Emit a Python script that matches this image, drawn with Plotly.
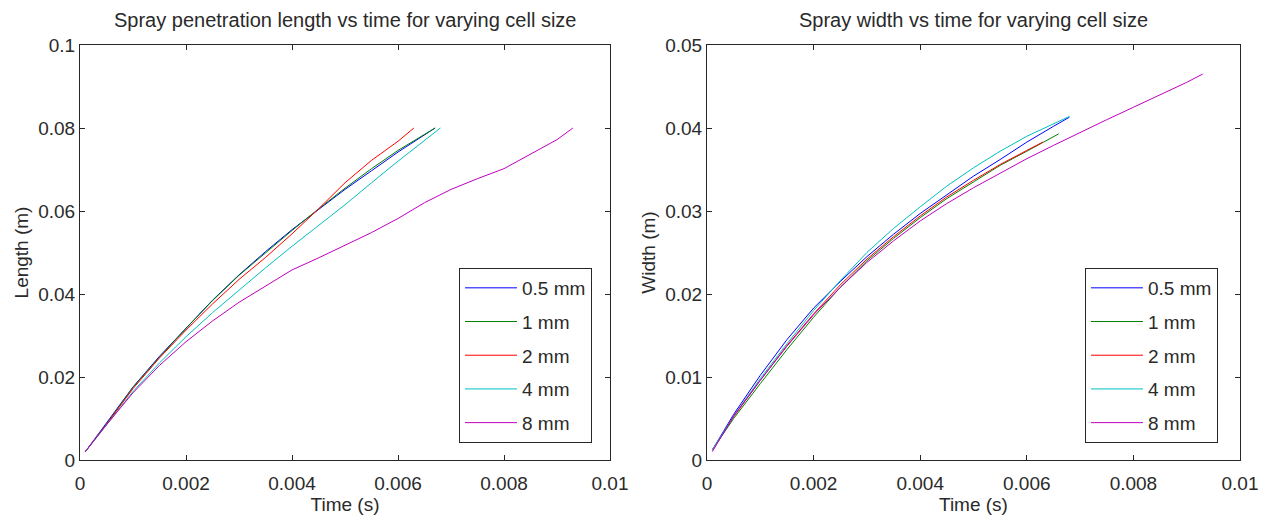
import plotly.graph_objects as go

labels = ["0.5 mm", "1 mm", "2 mm", "4 mm", "8 mm"]
colors = ["rgb(0,0,255)", "rgb(0,128,0)", "rgb(255,0,0)", "rgb(0,191,191)", "rgb(191,0,191)"]

# Left: penetration length (m) vs time (s)
len_t_05 = [0.0001, 0.0005, 0.001, 0.0015, 0.002, 0.0025, 0.003, 0.0035, 0.004, 0.0045, 0.005, 0.0055, 0.006, 0.0067]
len_y_05 = [0.002, 0.0088, 0.0176, 0.0250, 0.0318, 0.0385, 0.0446, 0.0502, 0.0555, 0.0604, 0.0652, 0.0697, 0.0742, 0.0800]
len_t_1 = [0.0001, 0.0005, 0.001, 0.0015, 0.002, 0.0025, 0.003, 0.0035, 0.004, 0.0045, 0.005, 0.0055, 0.006, 0.0067]
len_y_1 = [0.002, 0.0087, 0.0175, 0.0248, 0.0317, 0.0384, 0.0445, 0.0500, 0.0553, 0.0605, 0.0655, 0.0702, 0.0746, 0.0800]
len_t_2 = [0.0001, 0.0005, 0.001, 0.0015, 0.002, 0.0025, 0.003, 0.0035, 0.004, 0.0045, 0.005, 0.0055, 0.006, 0.0063]
len_y_2 = [0.002, 0.0086, 0.0172, 0.0246, 0.0313, 0.0376, 0.0435, 0.0488, 0.0545, 0.0605, 0.0668, 0.0722, 0.0768, 0.0800]
len_t_4 = [0.0001, 0.0005, 0.001, 0.0015, 0.002, 0.0025, 0.003, 0.0035, 0.004, 0.0045, 0.005, 0.0055, 0.006, 0.0068]
len_y_4 = [0.002, 0.0085, 0.0165, 0.0234, 0.0297, 0.0355, 0.0410, 0.0463, 0.0515, 0.0565, 0.0615, 0.0668, 0.0720, 0.0800]
len_t_8 = [0.0001, 0.0005, 0.001, 0.0015, 0.002, 0.0025, 0.003, 0.0035, 0.004, 0.0045, 0.005, 0.0055, 0.006, 0.0065, 0.007, 0.0075, 0.008, 0.0085, 0.009, 0.0093]
len_y_8 = [0.002, 0.0085, 0.0162, 0.0228, 0.0285, 0.0335, 0.0380, 0.0420, 0.0458, 0.0487, 0.0517, 0.0548, 0.0582, 0.0620, 0.0652, 0.0678, 0.0702, 0.0737, 0.0772, 0.0800]

# Right: spray width (m) vs time (s)
wid_t_05 = [0.0001, 0.0005, 0.001, 0.0015, 0.002, 0.0025, 0.003, 0.0035, 0.004, 0.0045, 0.005, 0.0055, 0.006, 0.0065, 0.0068]
wid_y_05 = [0.0012, 0.0055, 0.0102, 0.0145, 0.0183, 0.0215, 0.0245, 0.0272, 0.0297, 0.0320, 0.0342, 0.0362, 0.0383, 0.0402, 0.0413]
wid_t_1 = [0.0001, 0.0005, 0.001, 0.0015, 0.002, 0.0025, 0.003, 0.0035, 0.004, 0.0045, 0.005, 0.0055, 0.006, 0.0066]
wid_y_1 = [0.0012, 0.0050, 0.0092, 0.0133, 0.0172, 0.0208, 0.0240, 0.0267, 0.0292, 0.0315, 0.0335, 0.0355, 0.0372, 0.0393]
wid_t_2 = [0.0001, 0.0005, 0.001, 0.0015, 0.002, 0.0025, 0.003, 0.0035, 0.004, 0.0045, 0.005, 0.0055, 0.006, 0.0063]
wid_y_2 = [0.0012, 0.0052, 0.0096, 0.0138, 0.0176, 0.0211, 0.0242, 0.0269, 0.0294, 0.0317, 0.0337, 0.0356, 0.0373, 0.0383]
wid_t_4 = [0.0001, 0.0005, 0.001, 0.0015, 0.002, 0.0025, 0.003, 0.0035, 0.004, 0.0045, 0.005, 0.0055, 0.006, 0.0065, 0.0068]
wid_y_4 = [0.0012, 0.0053, 0.0098, 0.0140, 0.0180, 0.0216, 0.0250, 0.0279, 0.0305, 0.0330, 0.0352, 0.0372, 0.0390, 0.0405, 0.0414]
wid_t_8 = [0.0001, 0.0005, 0.001, 0.0015, 0.002, 0.0025, 0.003, 0.0035, 0.004, 0.0045, 0.005, 0.0055, 0.006, 0.0065, 0.007, 0.0075, 0.008, 0.0085, 0.009, 0.0093]
wid_y_8 = [0.0010, 0.0053, 0.0096, 0.0137, 0.0175, 0.0208, 0.0238, 0.0264, 0.0288, 0.0309, 0.0328, 0.0346, 0.0363, 0.0379, 0.0395, 0.0410, 0.0425, 0.0440, 0.0455, 0.0465]

len_series = [(len_t_05, len_y_05), (len_t_1, len_y_1), (len_t_2, len_y_2), (len_t_4, len_y_4), (len_t_8, len_y_8)]
wid_series = [(wid_t_05, wid_y_05), (wid_t_1, wid_y_1), (wid_t_2, wid_y_2), (wid_t_4, wid_y_4), (wid_t_8, wid_y_8)]

x_ticks = [0, 0.002, 0.004, 0.006, 0.008, 0.01]
x_ticklabels = ["0", "0.002", "0.004", "0.006", "0.008", "0.01"]
len_ticks = [0, 0.02, 0.04, 0.06, 0.08, 0.1]
len_ticklabels = ["0", "0.02", "0.04", "0.06", "0.08", "0.1"]
wid_ticks = [0, 0.01, 0.02, 0.03, 0.04, 0.05]
wid_ticklabels = ["0", "0.01", "0.02", "0.03", "0.04", "0.05"]

FONT = "Liberation Sans, Arial, sans-serif"
FS = 19
TXT = "#2a2a2a"
AX = "#262626"

fig = go.Figure()
for i, (t, y) in enumerate(len_series):
    fig.add_trace(go.Scatter(x=t, y=y, mode="lines", name=labels[i],
                             line=dict(color=colors[i], width=1),
                             xaxis="x", yaxis="y", legend="legend",
                             legendgroup="L" + str(i)))
for i, (t, y) in enumerate(wid_series):
    fig.add_trace(go.Scatter(x=t, y=y, mode="lines", name=labels[i],
                             line=dict(color=colors[i], width=1),
                             xaxis="x2", yaxis="y2", legend="legend2",
                             legendgroup="R" + str(i)))

def xax(domain, anchor):
    return dict(domain=domain, anchor=anchor, range=[0, 0.01], tickvals=x_ticks, ticktext=x_ticklabels,
                showgrid=False, zeroline=False, showline=True, linecolor=AX, linewidth=1,
                mirror="allticks", ticks="inside", ticklen=5, tickcolor=AX, ticklabelstandoff=6,
                automargin=False,
                tickfont=dict(family=FONT, size=FS, color=TXT),
                title=dict(text="Time (s)", font=dict(family=FONT, size=FS, color=TXT), standoff=4))

def yax(domain, anchor, rng, tv, tt, title):
    return dict(domain=domain, anchor=anchor, range=rng, tickvals=tv, ticktext=tt,
                showgrid=False, zeroline=False, showline=True, linecolor=AX, linewidth=1,
                mirror="allticks", ticks="inside", ticklen=5, tickcolor=AX, automargin=False,
                tickfont=dict(family=FONT, size=FS, color=TXT),
                title=dict(text=title, font=dict(family=FONT, size=FS, color=TXT), standoff=4))

legend_common = dict(bgcolor="white", bordercolor=AX, borderwidth=1,
                     font=dict(family=FONT, size=FS, color=TXT),
                     tracegroupgap=6, yanchor="top", xanchor="right", itemwidth=52)

fig.update_layout(
    width=1268, height=520,
    margin=dict(l=80, r=28, t=45, b=60),
    plot_bgcolor="white", paper_bgcolor="white",
    xaxis=xax([0, 0.4569], "y"),
    yaxis=yax([0, 1], "x", [0, 0.1], len_ticks, len_ticklabels, "Length (m)"),
    xaxis2=xax([0.5405, 1], "y2"),
    yaxis2=yax([0, 1], "x2", [0, 0.05], wid_ticks, wid_ticklabels, "Width (m)"),
    legend=dict(x=0.4414, y=0.4627, **legend_common),
    legend2=dict(x=0.981, y=0.4627, **legend_common),
    annotations=[
        dict(text="Spray penetration length vs time for varying cell size", x=0.2285, y=1, xref="paper",
             yref="paper", xanchor="center", yanchor="bottom", yshift=12, showarrow=False,
             font=dict(family=FONT, size=20, color=TXT)),
        dict(text="Spray width vs time for varying cell size", x=0.7703, y=1, xref="paper",
             yref="paper", xanchor="center", yanchor="bottom", yshift=12, showarrow=False,
             font=dict(family=FONT, size=20, color=TXT)),
    ],
)

fig.write_html("out.html")
